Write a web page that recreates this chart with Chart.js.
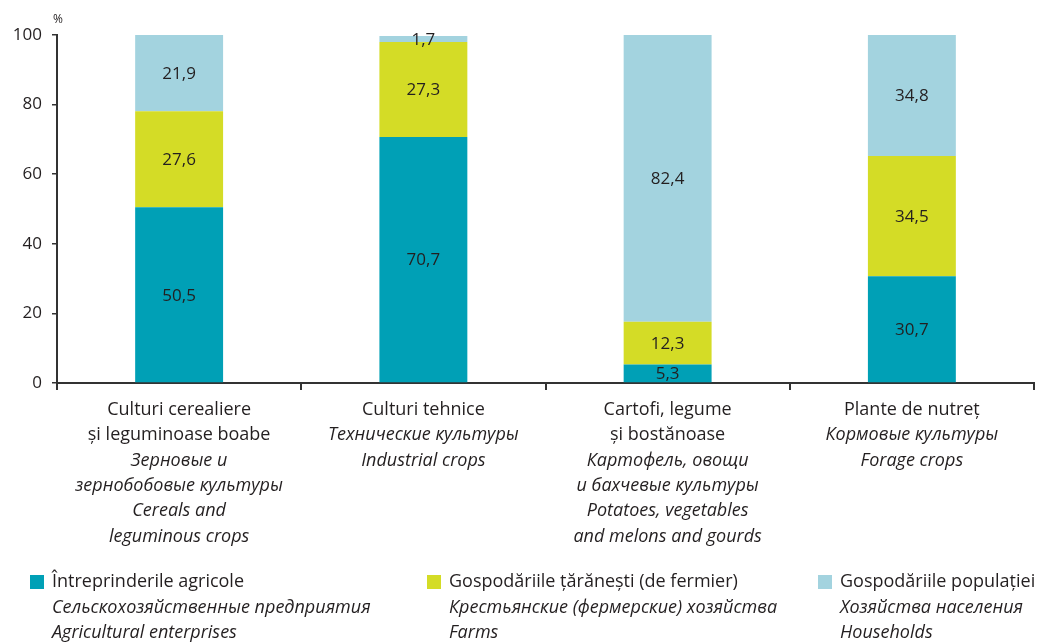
<!DOCTYPE html>
<html>
<head>
<meta charset="utf-8">
<script src="https://cdn.jsdelivr.net/npm/chart.js@4"></script>
<style>
  html, body { margin: 0; padding: 0; background: #fff; }
  #wrap { width: 1047px; height: 644px; position: relative; }
</style>
</head>
<body>
<div id="wrap"><canvas id="cropChart"></canvas></div>
<script>
// categories, three languages (Romanian normal, Russian + English italic)
const categoryRo = [
  ['Culturi cerealiere', 'și leguminoase boabe'],
  ['Culturi tehnice'],
  ['Cartofi, legume', 'și bostănoase'],
  ['Plante de nutreț']
];
const categoryRu = [
  ['Зерновые и', 'зернобобовые культуры'],
  ['Технические культуры'],
  ['Картофель, овощи', 'и бахчевые культуры'],
  ['Кормовые культуры']
];
const categoryEn = [
  ['Cereals and', 'leguminous crops'],
  ['Industrial crops'],
  ['Potatoes, vegetables', 'and melons and gourds'],
  ['Forage crops']
];

// shares, %
const enterprises = [50.5, 70.7, 5.3, 30.7];
const farms = [27.6, 27.3, 12.3, 34.5];
const households = [21.9, 1.7, 82.4, 34.8];

const seriesRo = ['Întreprinderile agricole', 'Gospodăriile țărănești (de fermier)', 'Gospodăriile populației'];
const seriesRu = ['Сельскохозяйственные предприятия', 'Крестьянские (фермерские) хозяйства', 'Хозяйства населения'];
const seriesEn = ['Agricultural enterprises', 'Farms', 'Households'];
const seriesColors = ['#00a0b6', '#d4dc26', '#a3d3df'];

const yTicks = [0, 20, 40, 60, 80, 100];

const TEXT = '#231f20';
const FONT = '"Open Sans", Lato, sans-serif';
const LABEL_SIZE = 18;

Chart.defaults.font.family = FONT;
Chart.defaults.font.size = 17;
Chart.defaults.color = TEXT;

function fmt(v) {
  return v.toFixed(1).replace('.', ',');
}

// value inside each segment
const segmentLabels = {
  id: 'segmentLabels',
  afterDatasetsDraw(chart) {
    const ctx = chart.ctx;
    ctx.save();
    ctx.font = '17px ' + FONT;
    ctx.fillStyle = TEXT;
    ctx.textAlign = 'center';
    ctx.textBaseline = 'middle';
    chart.data.datasets.forEach((ds, di) => {
      chart.getDatasetMeta(di).data.forEach((bar, i) => {
        ctx.fillText(fmt(ds.data[i]), bar.x, (bar.y + bar.base) / 2 + 1);
      });
    });
    ctx.restore();
  }
};

// multi-line category labels under the axis, plus "%" above the y axis
const axisText = {
  id: 'axisText',
  afterDraw(chart) {
    const ctx = chart.ctx;
    const x = chart.scales.x;
    const area = chart.chartArea;
    ctx.save();
    ctx.fillStyle = TEXT;
    ctx.textAlign = 'center';
    ctx.textBaseline = 'middle';
    chart.data.labels.forEach((_, i) => {
      const cx = x.getPixelForValue(i);
      const lines = []
        .concat(categoryRo[i].map(t => [t, false]))
        .concat(categoryRu[i].map(t => [t, true]))
        .concat(categoryEn[i].map(t => [t, true]));
      lines.forEach(([t, italic], j) => {
        ctx.font = (italic ? 'italic ' : '') + LABEL_SIZE + 'px ' + FONT;
        ctx.fillText(t, cx, area.bottom + 27 + j * 25.3);
      });
    });
    ctx.font = '12px ' + FONT;
    ctx.fillText('%', area.left + 1, area.top - 15);
    ctx.restore();
  }
};

// legend: swatch + three lines per series
const bottomLegend = {
  id: 'bottomLegend',
  afterDraw(chart) {
    const ctx = chart.ctx;
    const cols = [30, 427, 818];
    const top = 582;
    ctx.save();
    ctx.textBaseline = 'middle';
    ctx.textAlign = 'left';
    chart.data.datasets.forEach((ds, i) => {
      const x0 = cols[i];
      ctx.fillStyle = ds.backgroundColor;
      ctx.fillRect(x0, top - 7, 14, 14);
      ctx.fillStyle = TEXT;
      ctx.font = LABEL_SIZE + 'px ' + FONT;
      ctx.fillText(seriesRo[i], x0 + 22, top);
      ctx.font = 'italic ' + LABEL_SIZE + 'px ' + FONT;
      ctx.fillText(seriesRu[i], x0 + 22, top + 26);
      ctx.fillText(seriesEn[i], x0 + 22, top + 51);
    });
    ctx.restore();
  }
};

const canvas = document.getElementById('cropChart');
canvas.width = 1047;
canvas.height = 644;

new Chart(canvas, {
  type: 'bar',
  data: {
    labels: categoryRo.map(l => l.join(' ')),
    datasets: [
      { label: seriesRo[0], data: enterprises, backgroundColor: seriesColors[0] },
      { label: seriesRo[1], data: farms, backgroundColor: seriesColors[1] },
      { label: seriesRo[2], data: households, backgroundColor: seriesColors[2] }
    ]
  },
  options: {
    responsive: false,
    animation: false,
    devicePixelRatio: 1,
    layout: { padding: { top: 35, right: 13, bottom: 254, left: 0 } },
    datasets: { bar: { categoryPercentage: 1, barPercentage: 0.36, borderWidth: 0 } },
    plugins: {
      legend: { display: false },
      tooltip: { enabled: false }
    },
    scales: {
      x: {
        stacked: true,
        border: { display: true, color: '#333', width: 2 },
        grid: { display: true, offset: true, drawOnChartArea: false, drawTicks: true, tickLength: 7, color: '#333', lineWidth: 2 },
        ticks: { display: false },
        afterFit(scale) { scale.height = 7; }
      },
      y: {
        stacked: true,
        min: 0,
        max: 100,
        afterBuildTicks(scale) { scale.ticks = yTicks.map(v => ({ value: v })); },
        border: { display: true, color: '#333', width: 2 },
        grid: { display: true, drawOnChartArea: false, drawTicks: true, tickLength: 5, color: '#333', lineWidth: 1.5 },
        ticks: { padding: 10, color: TEXT, font: { size: 17 } },
        afterFit(scale) { scale.width = 57; }
      }
    }
  },
  plugins: [segmentLabels, axisText, bottomLegend]
});
</script>
</body>
</html>
